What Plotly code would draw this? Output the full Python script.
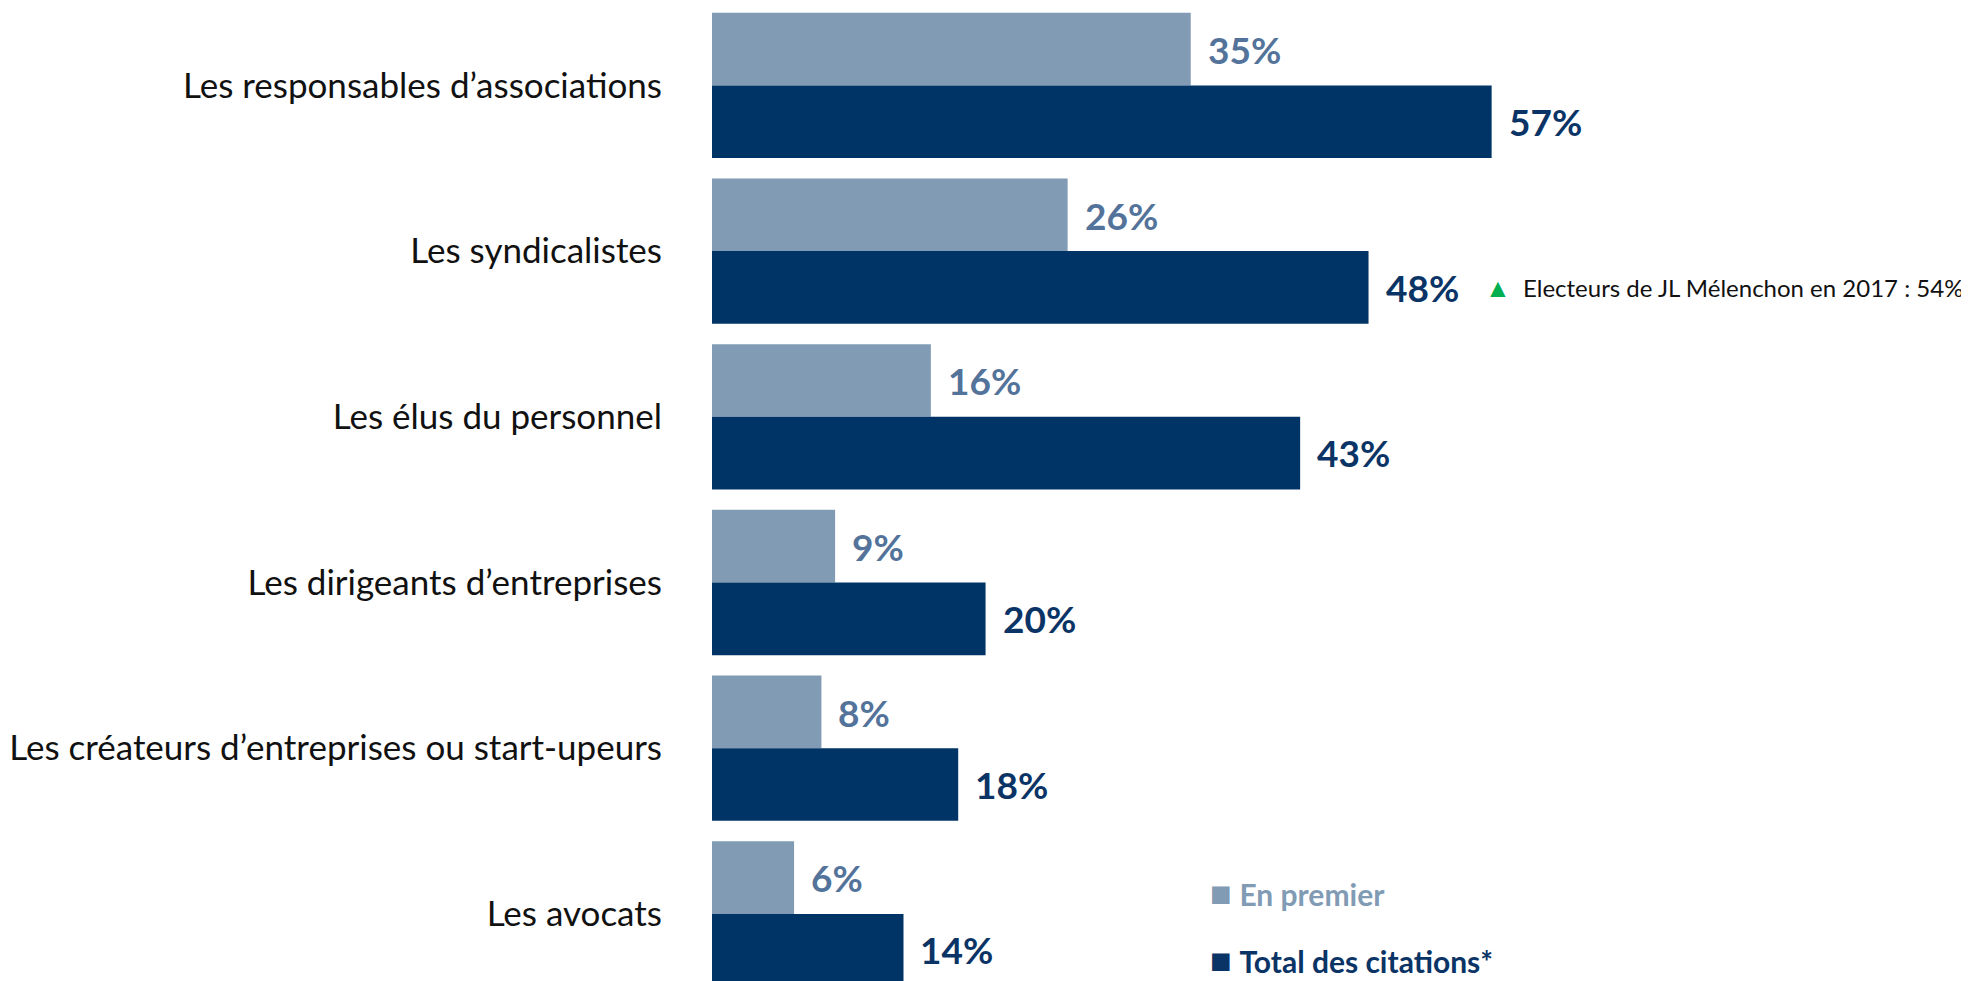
import plotly.graph_objects as go

categories = [
    "Les responsables d’associations",
    "Les syndicalistes",
    "Les élus du personnel",
    "Les dirigeants d’entreprises",
    "Les créateurs d’entreprises ou start-upeurs",
    "Les avocats",
]
en_premier = [35, 26, 16, 9, 8, 6]
total_citations = [57, 48, 43, 20, 18, 14]
series_names = ["En premier", "Total des citations*"]
note_category = "Les syndicalistes"
note_text = "Electeurs de JL Mélenchon en 2017 : 54%"

LIGHT = "#819BB4"
LIGHT_TXT = "#53739A"
DARK = "#003466"
DARK_TXT = "#0B3466"
FONT = "Lato"

fig = go.Figure()
fig.add_trace(go.Bar(y=categories, x=en_premier, orientation="h", name=series_names[0],
                     marker=dict(color=LIGHT, line=dict(width=0)), hoverinfo="skip"))
fig.add_trace(go.Bar(y=categories, x=total_citations, orientation="h", name=series_names[1],
                     marker=dict(color=DARK, line=dict(width=0)), hoverinfo="skip"))

annotations = []
OFF = 36
for c, a, b in zip(categories, en_premier, total_citations):
    annotations.append(dict(x=a, y=c, xref="x", yref="y", text=f"<b>{a}%</b>", showarrow=False,
                            xanchor="left", yanchor="middle", xshift=15, yshift=OFF,
                            font=dict(family=FONT, size=37, color=LIGHT_TXT)))
    annotations.append(dict(x=b, y=c, xref="x", yref="y", text=f"<b>{b}%</b>", showarrow=False,
                            xanchor="left", yanchor="middle", xshift=15, yshift=-OFF,
                            font=dict(family=FONT, size=37, color=DARK_TXT)))

ni = categories.index(note_category)
annotations.append(dict(x=total_citations[ni], y=note_category, xref="x", yref="y",
                        text=f"<span style='color:#00B050;font-size:26px'>▲</span>  {note_text}",
                        showarrow=False, xanchor="left", yanchor="middle", xshift=114, yshift=-OFF,
                        font=dict(family=FONT, size=24, color="#111111")))

for i, (name, col) in enumerate(zip(series_names, [LIGHT, DARK_TXT])):
    yy = [1 - (892 - 8) / 973, 1 - (959 - 8) / 973][i]
    annotations.append(dict(x=0.3946, y=yy, xref="paper", yref="paper",
                            text=f"<span style='font-size:36px'>■</span> <b>{name}</b>",
                            showarrow=False, xanchor="left", yanchor="middle",
                            font=dict(family=FONT, size=30, color=col)))

fig.update_layout(
    width=1961, height=973,
    margin=dict(l=704, r=0, t=0, b=0, autoexpand=False),
    barmode="group", bargap=0.123, bargroupgap=0,
    showlegend=False,
    plot_bgcolor="white", paper_bgcolor="white",
    annotations=annotations,
)
fig.update_xaxes(range=[0, 91.9], visible=False, showgrid=False, zeroline=False)
fig.update_yaxes(type="category", categoryorder="array", categoryarray=categories,
                 range=[5.405, -0.467], showgrid=False, zeroline=False, showline=False,
                 automargin=False,
                 ticks="outside", ticklen=42, tickcolor="rgba(0,0,0,0)",
                 tickfont=dict(family=FONT, size=35, color="#111111"))

fig.write_html("out.html")
